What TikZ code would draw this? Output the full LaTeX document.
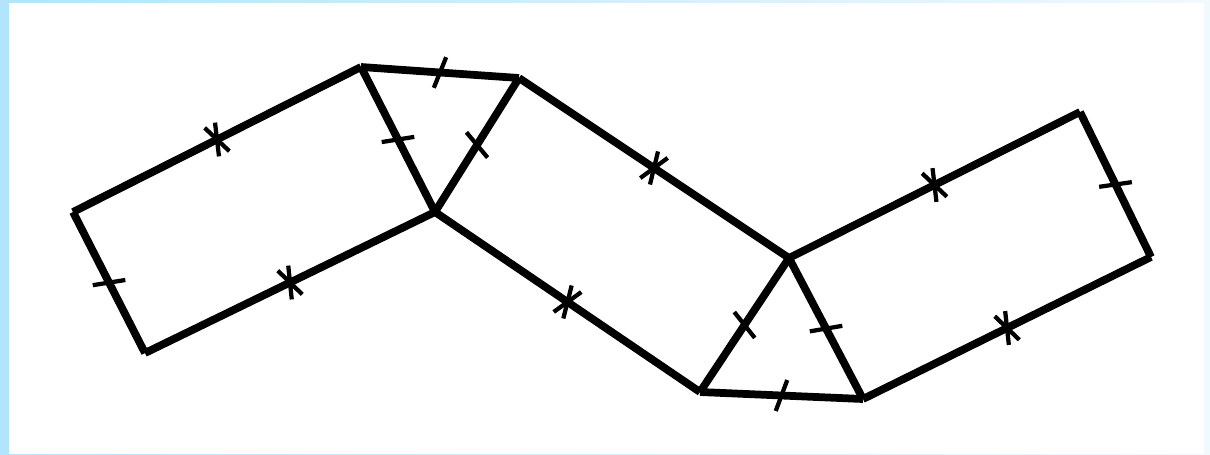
\documentclass[tikz,border=0pt]{standalone}
\usetikzlibrary{decorations.markings}
\definecolor{frameblue}{HTML}{B2E5FB}
\definecolor{framepale}{HTML}{F0F9FE}
\tikzset{
  edge/.style={line width=0.155cm},
  tickline/.style={line width=0.085cm},
  one tick/.style={postaction={decorate, decoration={markings,
    mark=at position 0.5 with {\draw[tickline, rotate=-18] (0,-0.33cm) -- (0,0.33cm);}}}},
  two ticks/.style={postaction={decorate, decoration={markings,
    mark=at position 0.5 with {\draw[tickline, rotate=20] (0,-0.34cm) -- (0,0.34cm);
      \draw[tickline, rotate=-20] (0,-0.34cm) -- (0,0.34cm);}}}}
}
\begin{document}
\begin{tikzpicture}[x=0.02cm, y=-0.02cm]
			% frame
			\shade[left color=frameblue, right color=framepale] (0,0) rectangle (1210,454);
			\fill[white] (9,3) rectangle (1204,454);
			% corners
			\coordinate (A) at (73,212);
			\coordinate (B) at (361,67);
			\coordinate (C) at (519,78);
			\coordinate (D) at (435,212);
			\coordinate (E) at (145,353);
			\coordinate (F) at (789,258);
			\coordinate (G) at (700,392);
			\coordinate (H) at (863,399);
			\coordinate (I) at (1080,112);
			\coordinate (J) at (1151,257);
			% left rectangle
			\draw[edge, two ticks] (A) -- (B);
			\draw[edge, one tick] (B) -- (D);
			\draw[edge, two ticks] (D) -- (E);
			\draw[edge, one tick] (E) -- (A);
			% upper triangle
			\draw[edge, one tick] (B) -- (C);
			\draw[edge, one tick] (C) -- (D);
			% middle parallelogram
			\draw[edge, two ticks] (C) -- (F);
			\draw[edge, two ticks] (D) -- (G);
			% lower triangle
			\draw[edge, one tick] (F) -- (G);
			\draw[edge, one tick] (G) -- (H);
			\draw[edge, one tick] (H) -- (F);
			% right rectangle
			\draw[edge, two ticks] (F) -- (I);
			\draw[edge, one tick] (I) -- (J);
			\draw[edge, two ticks] (J) -- (H);
		\end{tikzpicture}
\end{document}
